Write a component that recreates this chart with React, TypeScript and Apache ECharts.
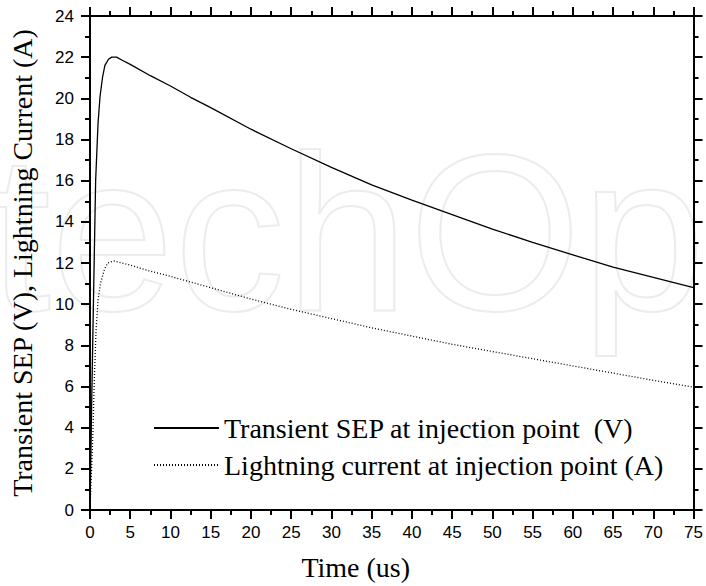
import React, { useEffect, useRef } from "react";
import * as echarts from "echarts";

const sepTime = [0, 0.2, 0.4, 0.7, 1.0, 1.25, 1.55, 1.85, 2.3, 2.7, 3.3, 4, 5, 7.5, 10, 12.5, 15, 20, 25, 30, 35, 40, 45, 50, 55, 60, 65, 70, 75];
const sepValues = [0, 5, 9.5, 16, 18.8, 20.1, 21.0, 21.6, 21.9, 22.0, 22.0, 21.85, 21.65, 21.1, 20.6, 20.05, 19.55, 18.5, 17.55, 16.65, 15.8, 15.05, 14.35, 13.65, 13.0, 12.4, 11.8, 11.3, 10.8];

const curTime = [0, 0.3, 0.55, 0.75, 1.0, 1.3, 1.8, 2.2, 3.0, 4, 5, 7.5, 10, 15, 20, 25, 30, 35, 40, 45, 50, 55, 60, 65, 70, 75];
const curValues = [0, 3, 6.5, 8.7, 10.2, 11.0, 11.7, 12.0, 12.1, 12.0, 11.9, 11.6, 11.35, 10.8, 10.25, 9.75, 9.3, 8.85, 8.45, 8.05, 7.7, 7.35, 7.0, 6.65, 6.3, 5.97];

const seriesNames = [
  "Transient SEP at injection point  (V)",
  "Lightning current at injection point (A)",
];
const xTitle = "Time (us)";
const yTitle = "Transient SEP (V), Lightning Current (A)";
const watermark = "IntechOpen";

// axis ranges and tick steps
const X_MIN = 0, X_MAX = 75, X_STEP = 5;
const Y_MIN = 0, Y_MAX = 24, Y_STEP = 2;

const SERIF = "'Liberation Serif', 'Times New Roman', serif";
const SANS = "'Liberation Sans', Arial, sans-serif";

export default function App() {
  const ref = useRef<HTMLDivElement>(null);
  useEffect(() => {
    if (!ref.current) return;
    const chart = echarts.init(ref.current, null, { renderer: "svg" });
    const axisLine = { show: true, onZero: false, lineStyle: { color: "#000", width: 2 } };
    const tick = { show: true, inside: false, length: 9, lineStyle: { color: "#000", width: 2 } };
    const minor = { show: true, splitNumber: 2, length: 5, lineStyle: { color: "#000", width: 2 } };
    chart.setOption({
      animation: false,
      backgroundColor: "#fff",
      graphic: [
        {
          type: "text",
          z: -10,
          silent: true,
          x: -196,
          y: 233,
          style: {
            text: watermark,
            font: `222px ${SANS}`,
            fill: "rgba(0,0,0,0)",
            stroke: "#ececec",
            lineWidth: 2,
            verticalAlign: "middle",
          },
        },
      ],
      grid: { left: 90, right: 9, top: 16, bottom: 76 },
      legend: {
        orient: "vertical",
        left: 148,
        top: 409,
        itemWidth: 65,
        itemHeight: 14,
        itemGap: 9,
        data: seriesNames,
        itemStyle: { opacity: 0, color: "rgba(0,0,0,0)", borderWidth: 0 },
        textStyle: { fontFamily: SERIF, fontSize: 28, color: "#000", lineHeight: 28 },
      },
      xAxis: [
        {
          type: "value",
          min: X_MIN,
          max: X_MAX,
          interval: X_STEP,
          position: "bottom",
          axisLine,
          axisTick: tick,
          minorTick: minor,
          splitLine: { show: false },
          axisLabel: { show: true, fontFamily: SANS, fontSize: 17, color: "#000", margin: 14 },
          name: xTitle,
          nameLocation: "middle",
          nameGap: 43,
          nameTextStyle: { fontFamily: SERIF, fontSize: 28, color: "#000", padding: [0, 72, 0, 0] },
        },
        {
          type: "value",
          min: X_MIN,
          max: X_MAX,
          interval: X_STEP,
          position: "top",
          axisLine,
          axisTick: tick,
          minorTick: minor,
          splitLine: { show: false },
          axisLabel: { show: false },
        },
      ],
      yAxis: [
        {
          type: "value",
          min: Y_MIN,
          max: Y_MAX,
          interval: Y_STEP,
          position: "left",
          axisLine,
          axisTick: tick,
          minorTick: minor,
          splitLine: { show: false },
          axisLabel: { show: true, fontFamily: SANS, fontSize: 17, color: "#000", margin: 16 },
          name: yTitle,
          nameLocation: "middle",
          nameRotate: 90,
          nameGap: 54,
          nameTextStyle: { fontFamily: SERIF, fontSize: 28, color: "#000" },
        },
        {
          type: "value",
          min: Y_MIN,
          max: Y_MAX,
          interval: Y_STEP,
          position: "right",
          axisLine,
          axisTick: tick,
          minorTick: minor,
          splitLine: { show: false },
          axisLabel: { show: false },
        },
      ],
      series: [
        {
          name: seriesNames[0],
          type: "line",
          symbol: "none",
          showSymbol: false,
          data: sepTime.map((t, i) => [t, sepValues[i]]),
          lineStyle: { color: "#000", width: 1.3, type: "solid" },
          itemStyle: { color: "#000" },
        },
        {
          name: seriesNames[1],
          type: "line",
          symbol: "none",
          showSymbol: false,
          data: curTime.map((t, i) => [t, curValues[i]]),
          lineStyle: { color: "#000", width: 1.3, type: [1, 2] },
          itemStyle: { color: "#000" },
        },
      ],
    });
    return () => chart.dispose();
  }, []);
  return (
    <div
      ref={ref}
      style={{ position: "fixed", left: 0, top: 0, width: 706, height: 586, background: "#fff" }}
    />
  );
}
